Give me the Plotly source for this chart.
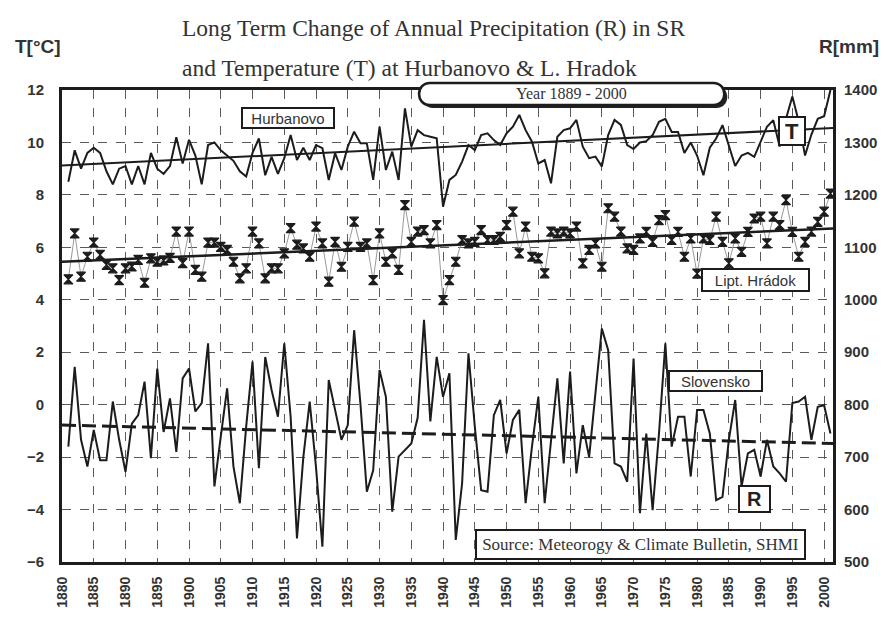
import plotly.graph_objects as go

# ---------------- data ----------------
years = list(range(1881, 2002))

hurbanovo_t = [
    8.5, 9.7, 9.0, 9.6, 9.8, 9.6, 8.9, 8.4, 9.0, 9.1, 8.4, 9.1, 8.4, 9.6, 9.0,
    8.8, 9.1, 10.2, 9.2, 10.1, 9.5, 8.4, 9.9, 10.0, 9.7, 9.5, 9.3, 8.9, 8.7,
    9.6, 10.15, 8.75, 9.45, 8.8, 9.4, 10.28, 9.33, 9.8, 9.33,
    9.9, 9.78, 8.57, 9.59, 8.95, 9.84, 10.41, 9.97, 9.97, 8.57, 10.6, 8.95, 9.65,
    8.57, 11.3, 9.84, 10.47, 10.28, 10.22, 10.16, 7.55, 8.57, 8.76, 9.27, 9.9,
    9.71, 10.28, 10.35, 10.09, 9.9, 10.35, 10.6, 11.05, 10.47, 10.03, 9.2, 9.33,
    8.44, 10.22, 10.47, 10.54, 10.86, 9.84, 9.4, 9.46,
    9.08, 10.28, 10.86, 10.67, 9.9, 9.75, 10.0, 10.05, 10.28, 10.79, 10.9, 10.4,
    10.4, 9.6, 10.0, 9.5, 8.75, 9.8, 10.15, 10.66, 9.9, 9.1, 9.5, 9.6, 9.45, 10.0,
    10.6, 10.85, 9.84, 10.9, 11.75, 10.8, 9.5, 10.3, 10.9, 11.0, 12.0,
]

hradok_t = [
    4.78, 6.53, 4.88, 5.64, 6.18, 5.71, 5.33, 5.2, 4.75, 5.2, 5.27, 5.52, 4.65,
    5.58, 5.45, 5.5, 5.6, 6.6, 5.4, 6.6, 5.14, 4.88, 6.18, 6.18, 6.02, 5.9, 5.45,
    4.82, 5.2, 6.6, 6.15, 4.82, 5.2, 5.2, 5.77, 6.73, 6.1,
    5.96, 5.64, 6.79, 6.15, 4.69, 6.21, 5.26, 6.02, 6.98, 6.02, 6.15, 4.75, 6.53,
    5.45, 5.77, 5.14, 7.61, 6.21, 6.6, 6.66, 6.15, 6.85, 3.99, 4.75, 5.45, 6.28,
    6.15, 6.21, 6.66, 6.28, 6.28, 6.4, 6.85, 7.36, 5.77, 6.79, 5.64, 5.58, 5.01,
    6.6, 6.53, 6.6, 6.53, 6.79, 5.39, 5.9, 6.15,
    5.26, 7.49, 7.17, 6.6, 5.96, 5.9,
    6.34, 6.59, 6.21, 7.04, 7.23, 6.28, 6.59, 5.64, 6.34, 5.0, 6.34, 6.28, 7.17,
    6.21, 5.39, 6.34, 5.83, 6.59, 7.1, 7.17, 6.15, 7.17, 6.85, 7.8, 6.59, 5.64,
    6.21, 6.6, 6.97, 7.36, 8.05,
]

slovensko_r = [
    720, 872, 733, 682, 752, 694, 694, 806, 733, 672, 764, 780, 844, 698, 869,
    748, 812, 710, 850, 869, 787, 803, 917, 644, 739, 831, 682, 612, 758, 882,
    679, 891, 828, 777, 917, 777, 545,
    700, 806, 680, 529, 847, 790, 733, 761, 942, 800, 634, 675, 866, 815, 596,
    701, 714, 726, 775, 962, 768, 891, 815, 860, 542, 650, 898, 758, 637, 634,
    780, 809, 707, 771, 790, 612, 720, 815, 612, 733, 850, 688, 863, 669, 761,
    700, 830,
    945, 904, 688, 682, 653, 888, 593, 745, 599, 745, 917, 720, 777, 777, 663,
    790, 790, 745, 618, 624, 733, 809, 644, 707, 714, 663, 733, 682, 669, 653,
    803, 806, 815, 733, 796, 799, 745,
]

trend_years = [1880, 2001.4]
hurbanovo_trend = [9.12, 10.55]
hradok_trend = [5.45, 6.72]
slovensko_trend = [761, 726]

tick_years = list(range(1880, 2001, 5))
tick_year_labels = [str(y) for y in tick_years]
t_ticks = list(range(-6, 13, 2))
r_ticks = list(range(500, 1401, 100))

# ---------------- layout helpers ----------------
W, H = 889, 634
ML, MR, MT, MB = 62, 54, 90, 72
PW, PH = W - ML - MR, H - MT - MB


def px(x):
    return (x - ML) / PW


def py(y):
    return (H - MB - y) / PH


INK = "#1c1c1c"
GRID = "#5a5a5a"

fig = go.Figure()

fig.add_trace(go.Scatter(x=years, y=hurbanovo_t, mode="lines",
                         line=dict(color=INK, width=2), name="Hurbanovo"))
fig.add_trace(go.Scatter(x=trend_years, y=hurbanovo_trend, mode="lines",
                         line=dict(color=INK, width=2), name="Hurbanovo trend"))
fig.add_trace(go.Scatter(x=years, y=hradok_t, mode="lines+markers",
                         line=dict(color="#9a9a9a", width=1),
                         marker=dict(symbol="hourglass", size=9, color=INK,
                                     line=dict(color=INK, width=1.2)),
                         name="Lipt. Hrádok"))
fig.add_trace(go.Scatter(x=trend_years, y=hradok_trend, mode="lines",
                         line=dict(color=INK, width=2.5), name="Hrádok trend"))
fig.add_trace(go.Scatter(x=years, y=slovensko_r, mode="lines", yaxis="y2",
                         line=dict(color=INK, width=2), name="Slovensko"))
fig.add_trace(go.Scatter(x=trend_years, y=slovensko_trend, mode="lines", yaxis="y2",
                         line=dict(color=INK, width=3, dash="14px,6px"),
                         name="Slovensko trend"))

tick_font = dict(family="Liberation Sans, Arial", size=15, color="#333", weight="bold")

fig.update_layout(
    width=W, height=H,
    margin=dict(l=ML, r=MR, t=MT, b=MB, pad=0),
    paper_bgcolor="white", plot_bgcolor="white",
    showlegend=False,
    xaxis=dict(range=[1880, 2001.4], tickmode="array", tickvals=tick_years,
               ticktext=tick_year_labels, tickangle=-90,
               tickfont=dict(family="Liberation Sans, Arial", size=14, color="#333", weight="bold"),
               showgrid=True, gridcolor=GRID, griddash="dash", gridwidth=1,
               showline=True, linecolor=INK, linewidth=3, mirror=True,
               zeroline=False, ticks="", ticklabelstandoff=6),
    yaxis=dict(range=[-6, 12], tickmode="array", tickvals=t_ticks,
               tickfont=tick_font, showgrid=True, gridcolor=GRID, griddash="dash",
               gridwidth=1, showline=True, linecolor=INK, linewidth=3, mirror=True,
               zeroline=False, ticks="", ticklabelstandoff=12),
    yaxis2=dict(range=[500, 1400], overlaying="y", side="right", tickmode="array",
                tickvals=r_ticks, tickfont=tick_font, showgrid=False, zeroline=False,
                showline=False, ticks="", ticklabelstandoff=10),
)

# ---------------- rounded "Year" box ----------------
def pill(x0, y0, x1, y1):
    r = (y1 - y0) / 2.0
    k = 4.0 / 3.0 * r
    pts = [
        f"M {px(x0 + r)},{py(y0)}",
        f"L {px(x1 - r)},{py(y0)}",
        f"C {px(x1 - r + k)},{py(y0)} {px(x1 - r + k)},{py(y1)} {px(x1 - r)},{py(y1)}",
        f"L {px(x0 + r)},{py(y1)}",
        f"C {px(x0 + r - k)},{py(y1)} {px(x0 + r - k)},{py(y0)} {px(x0 + r)},{py(y0)}",
        "Z",
    ]
    return " ".join(pts)


fig.add_shape(type="path", path=pill(423, 86, 729, 108), xref="paper", yref="paper",
              line=dict(color=INK, width=0), fillcolor="#222", layer="above")
fig.add_shape(type="path", path=pill(420, 83, 726, 105), xref="paper", yref="paper",
              line=dict(color=INK, width=2.5), fillcolor="white", layer="above")

serif = "Liberation Serif, Times New Roman"
sans = "Liberation Sans, Arial"

annotations = [
    dict(text="Long Term Change of Annual Precipitation (R) in SR", x=px(180), y=py(28),
         xanchor="left", yanchor="middle", font=dict(family=serif, size=23.5, color="#333")),
    dict(text="and Temperature (T) at Hurbanovo &amp; L. Hradok", x=px(180), y=py(68),
         xanchor="left", yanchor="middle", font=dict(family=serif, size=23.5, color="#333")),
    dict(text="T[°C]", x=px(38), y=py(46), xanchor="center", yanchor="middle",
         font=dict(family=sans, size=19, color="#333", weight="bold")),
    dict(text="R[mm]", x=px(851), y=py(46), xanchor="center", yanchor="middle",
         font=dict(family=sans, size=19, color="#333", weight="bold")),
    dict(text="Year 1889 - 2000", x=px(573), y=py(94), xanchor="center", yanchor="middle",
         font=dict(family=serif, size=16, color="#333")),
]

boxes = [
    ("Hurbanovo", 289, 117.5, 88, 16, dict(family=sans, size=15, color="#333")),
    ("T", 793.5, 130.5, 22, 24, dict(family=sans, size=22, color="#222", weight="bold")),
    ("Lipt. Hrádok", 757.5, 280, 103, 18, dict(family=sans, size=15, color="#333")),
    ("Slovensko", 717.5, 380.5, 89, 16, dict(family=sans, size=15, color="#333")),
    ("R", 756.5, 499, 27, 22, dict(family=sans, size=20, color="#222", weight="bold")),
    ("Source: Meteorogy &amp; Climate Bulletin, SHMI", 642.5, 544, 325, 25,
     dict(family=serif, size=17, color="#333")),
]
for text, cx, cy, w, h, f in boxes:
    annotations.append(dict(text=text, x=px(cx), y=py(cy), xanchor="center", yanchor="middle",
                            width=w, height=h, bordercolor=INK, borderwidth=2, borderpad=1,
                            bgcolor="white", font=f))

for a in annotations:
    a.update(xref="paper", yref="paper", showarrow=False)
fig.update_layout(annotations=annotations)

fig.write_html("out.html", config={"displayModeBar": False})

with open("out.html", "r", encoding="utf-8") as fh:
    html = fh.read()
html = html.replace("<body>", '<body style="margin:0;padding:0;overflow:hidden">', 1)
with open("out.html", "w", encoding="utf-8") as fh:
    fh.write(html)
